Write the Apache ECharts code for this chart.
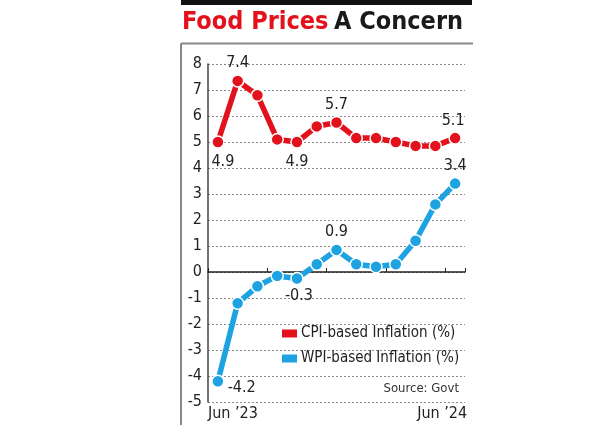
<!DOCTYPE html>
<html>
<head>
<meta charset="utf-8">
<style>
html,body{margin:0;padding:0;background:#fff;}
#chart{width:600px;height:425px;}
</style>
<script src="https://cdn.jsdelivr.net/npm/echarts@6/dist/echarts.min.js"></script>
</head>
<body>
<div id="chart"></div>
<script>
var months = ['Jun ’23','Jul','Aug','Sep','Oct','Nov','Dec','Jan','Feb','Mar','Apr','May','Jun ’24'];
var cpiValues = [5.0, 7.35, 6.8, 5.1, 5.0, 5.6, 5.75, 5.15, 5.15, 5.0, 4.85, 4.85, 5.15];
var wpiValues = [-4.2, -1.2, -0.55, -0.15, -0.25, 0.3, 0.85, 0.3, 0.2, 0.3, 1.2, 2.6, 3.4];
var cpiLabels = ['4.9','7.4','','','4.9','','5.7','','','','','','5.1'];
var wpiLabels = ['-4.2','','','','-0.3','','0.9','','','','','','3.4'];
var yTicks = [-5,-4,-3,-2,-1,0,1,2,3,4,5,6,7,8];
var seriesNames = ['CPI-based Inflation (%)','WPI-based Inflation (%)'];

var FONT = "'DejaVu Sans Condensed','Liberation Sans Narrow',sans-serif";
var RED = '#e2111b', BLUE = '#1ea3e2';

var cpiPos = {0:'bottom',1:'top',4:'bottom',6:'top',12:'top'};
var wpiPos = {0:'right',4:'bottom',6:'top',12:'top'};
function build(vals, labels, pos, offsets){
  return vals.map(function(v,i){
    var item = {value:v};
    if(labels[i]){
      item.label = {show:true, position:pos[i], formatter:labels[i], offset:(offsets&&offsets[i])||[0,0]};
    }
    return item;
  });
}

var chart = echarts.init(document.getElementById('chart'));
chart.setOption({
  animation:false,
  backgroundColor:'#fff',
  textStyle:{fontFamily:FONT},
  title:[{
    text:'{r|Food Prices} {b|A Concern}',
    left:182, top:10, padding:0,
    textStyle:{rich:{
      r:{fontFamily:FONT,fontSize:25,fontWeight:'bold',color:RED},
      b:{fontFamily:FONT,fontSize:25,fontWeight:'bold',color:'#1a1a1a'}
    }}
  },{
    text:'Source: Govt',
    right:141, top:382, padding:0,
    textStyle:{fontFamily:FONT,fontSize:13,fontWeight:'normal',color:'#333'}
  }],
  legend:{
    data:seriesNames,
    orient:'vertical',
    left:280, top:326, padding:0,
    itemWidth:17, itemHeight:10, itemGap:10,
    icon:'rect',
    textStyle:{fontFamily:FONT,fontSize:15,color:'#222',padding:[0,0,0,-2]}
  },
  grid:{left:208,right:135,top:64,bottom:23,containLabel:false},
  xAxis:[{
    type:'category', data:months, boundaryGap:true,
    axisLine:{onZero:true,lineStyle:{color:'#222',width:1.5}},
    axisTick:{show:true,inside:true,length:4,lineStyle:{color:'#222',width:1}},
    axisLabel:{show:false},
    splitLine:{show:false}
  },{
    type:'category', data:months, boundaryGap:true, position:'bottom',
    axisLine:{show:false,onZero:false}, axisTick:{show:false},
    axisLabel:{
      show:true, interval:0, margin:4,
      formatter:function(v,i){
        if(i===0) return '{a|'+v+'}';
        if(i===months.length-1) return '{z|'+v+'}';
        return '';
      },
      rich:{
        a:{fontFamily:FONT,fontSize:16,color:'#222',padding:[0,0,0,30]},
        z:{fontFamily:FONT,fontSize:16,color:'#222',padding:[0,26,0,0]}
      }
    },
    splitLine:{show:false}
  }],
  yAxis:{
    type:'value', min:-5, max:8, interval:1,
    axisLine:{show:true,lineStyle:{color:'#444',width:1.5}},
    axisTick:{show:false},
    axisLabel:{fontFamily:FONT,fontSize:16,color:'#222',margin:6,
      formatter:function(v){return yTicks.indexOf(v)>=0? String(v):'';}},
    splitLine:{show:true,lineStyle:{color:'#888',type:[2,2],width:1}}
  },
  series:[{
    name:seriesNames[0], type:'line', xAxisIndex:0,
    data:build(cpiValues,cpiLabels,cpiPos,{0:[5,2],4:[0,2],12:[-2,0]}),
    color:RED,
    lineStyle:{width:5.5,color:RED},
    symbol:'circle', symbolSize:12,
    itemStyle:{color:RED,borderColor:'#fff',borderWidth:1.5},
    label:{fontFamily:FONT,fontSize:16,color:'#222',distance:3},
    z:3
  },{
    name:seriesNames[1], type:'line', xAxisIndex:0,
    data:build(wpiValues,wpiLabels,wpiPos,{0:[0,7],4:[2,0]}),
    color:BLUE,
    lineStyle:{width:5.5,color:BLUE},
    symbol:'circle', symbolSize:12,
    itemStyle:{color:BLUE,borderColor:'#fff',borderWidth:1.5},
    label:{fontFamily:FONT,fontSize:16,color:'#222',distance:3},
    z:3
  }],
  graphic:[
    {type:'rect',shape:{x:181,y:0,width:291,height:5},style:{fill:'#111'}},
    {type:'line',shape:{x1:181,y1:43.5,x2:473,y2:43.5},style:{stroke:'#888',lineWidth:2}},
    {type:'line',shape:{x1:181,y1:43.5,x2:181,y2:425},style:{stroke:'#888',lineWidth:2}}
  ]
});
</script>
</body>
</html>
